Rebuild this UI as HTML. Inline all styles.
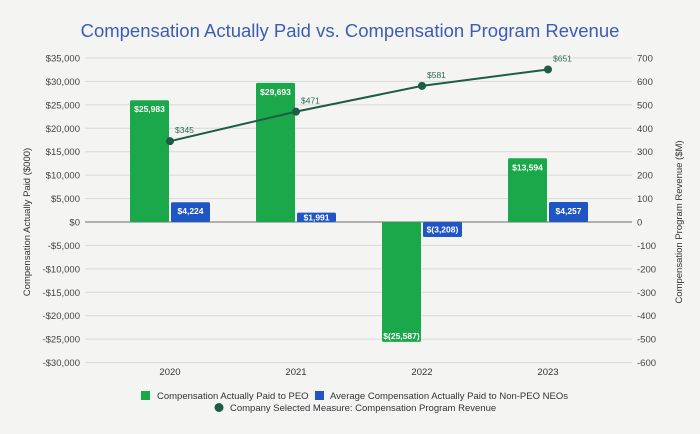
<!DOCTYPE html>
<html><head><meta charset="utf-8"><style>
body{margin:0;background:#f4f5f2;font-family:"Liberation Sans",Arial,sans-serif}
svg{display:block}
</style></head><body>
<svg width="700" height="434" id="c">
<rect width="700" height="434" fill="#f4f5f2"/>
<text x="350" y="37" text-anchor="middle" font-size="18.5" fill="#3b5cb8">Compensation Actually Paid vs. Compensation Program Revenue</text>
<text transform="translate(30,222) rotate(-90)" text-anchor="middle" font-size="9.5" fill="#333">Compensation Actually Paid ($000)</text>
<text transform="translate(682,222) rotate(-90)" text-anchor="middle" font-size="9.5" fill="#333">Compensation Program Revenue ($M)</text>
<g id="grid"></g><g id="bars"></g><g id="line"></g>
<g>
<rect x="141" y="391" width="9" height="9" fill="#1aa84a"/>
<text x="157" y="399" font-size="9.5" fill="#333">Compensation Actually Paid to PEO</text>
<rect x="315" y="391" width="9" height="9" fill="#1f56c3"/>
<text x="330" y="399" font-size="9.5" fill="#333">Average Compensation Actually Paid to Non-PEO NEOs</text>
<circle cx="219" cy="407.5" r="4.5" fill="#1f5c45"/>
<text x="230" y="411" font-size="9.5" fill="#333">Company Selected Measure: Compensation Program Revenue</text>
</g>
</svg>
<script>
const categories=["2020","2021","2022","2023"];
const peo=[25983,29693,-25587,13594];
const neo=[4224,1991,-3208,4257];
const revenue=[345,471,581,651];
const leftTicks=[35000,30000,25000,20000,15000,10000,5000,0,-5000,-10000,-15000,-20000,-25000,-30000];
const rightTicks=[700,600,500,400,300,200,100,0,-100,-200,-300,-400,-500,-600];
const NS="http://www.w3.org/2000/svg";
const y0=222,step=23.43;
const yL=v=>y0-v/5000*step, yR=v=>y0-v/100*step;
const bandL=107,bandW=126,xC=i=>bandL+bandW*(i+0.5);
function mk(t,a,p){const e=document.createElementNS(NS,t);for(const k in a)e.setAttribute(k,a[k]);p.appendChild(e);return e;}
const fmt=v=>v<0?'$('+Math.abs(v).toLocaleString('en-US')+')':'$'+v.toLocaleString('en-US');
const g=document.getElementById('grid');
leftTicks.forEach(v=>{
 const y=yL(v);
 const l=mk('line',{x1:85,x2:632,y1:y,y2:y,stroke:v===0?'#888':'#d8d9d6','stroke-width':v===0?1.2:1},g);
 
 
 const t=mk('text',{x:80,y:y+3.5,'text-anchor':'end','font-size':9.5,fill:'#444'},g);t.textContent=v<0?'-$'+Math.abs(v).toLocaleString('en-US'):'$'+v.toLocaleString('en-US');
 
 
});
rightTicks.forEach(v=>{
 const t=mk('text',{x:637,y:yR(v)+3.5,'font-size':9.5,fill:'#444'},g);t.textContent=v;
 
 
});
categories.forEach((c,i)=>{
 const t=mk('text',{x:xC(i),y:375,'text-anchor':'middle','font-size':9.5,fill:'#333'},g);t.textContent=c;
 
 
});
const b=document.getElementById('bars');
function bar(i,v,off,col,name){
 const x=xC(i)+off,yt=Math.min(yL(v),y0),h=Math.abs(yL(v)-y0);
 const r=mk('rect',{x:x,y:yt,width:39,height:h,fill:col,rx:1.5},b);
 
 
 let ly=v>=0?yt+12:yt+h-3;
 if(h<16) ly=yt+h/2+3;
 const t=mk('text',{x:x+19.5,y:ly,'text-anchor':'middle','font-size':8.5,'font-weight':'bold',fill:'#fff'},b);t.textContent=fmt(v);
 
 
}
categories.forEach((c,i)=>{bar(i,peo[i],-40,'#1aa84a','bar-peo-'+c);bar(i,neo[i],1,'#1f56c3','bar-neo-'+c);});
const L=document.getElementById('line');
const pl=mk('polyline',{points:revenue.map((v,i)=>xC(i)+','+yR(v)).join(' '),fill:'none',stroke:'#1f5c45','stroke-width':2},L);


revenue.forEach((v,i)=>{
 const p=mk('circle',{cx:xC(i),cy:yR(v),r:4,fill:'#1f5c45'},L);
 
 
 const t=mk('text',{x:xC(i)+5,y:yR(v)-8,'font-size':8.5,fill:'#2e6b4f'},L);t.textContent='$'+v;
 
 
});
</script>
</body></html>
